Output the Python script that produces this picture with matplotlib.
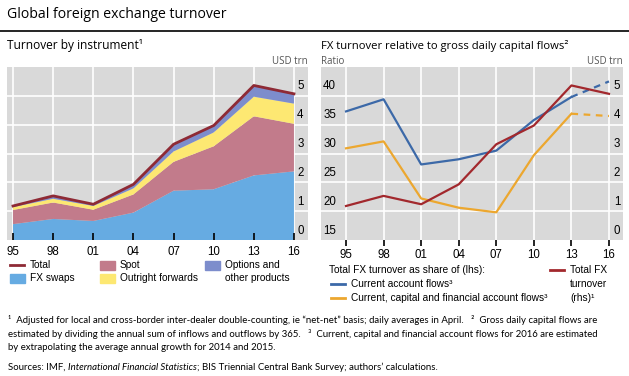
import matplotlib
matplotlib.use("Agg")
import matplotlib.pyplot as plt
from matplotlib.lines import Line2D
from matplotlib.patches import Rectangle

# data (USD trn, BIS triennial survey)
years = [1995, 1998, 2001, 2004, 2007, 2010, 2013, 2016]
year_labels = ["95", "98", "01", "04", "07", "10", "13", "16"]
fx_swaps = [0.55, 0.73, 0.66, 0.95, 1.71, 1.76, 2.24, 2.38]
spot = [0.49, 0.57, 0.39, 0.63, 1.00, 1.49, 2.05, 1.65]
forwards = [0.10, 0.13, 0.13, 0.21, 0.36, 0.48, 0.68, 0.70]
options = [0.05, 0.10, 0.07, 0.14, 0.24, 0.25, 0.39, 0.34]
total = [1.18, 1.53, 1.24, 1.93, 3.32, 3.97, 5.36, 5.07]

# ratios (lhs)
ca_ratio = [37.3, 39.4, 28.1, 29.0, 30.5, 35.8, 39.8, 42.5]
ccfa_ratio = [30.9, 32.1, 22.2, 20.6, 19.8, 29.7, 36.9, 36.5]

left_ticks = [0, 1, 2, 3, 4, 5]
ratio_ticks = [15, 20, 25, 30, 35, 40]

BG = "#d9d9d9"
C_SWAP = "#66abe2"
C_SPOT = "#c27b8b"
C_FWD = "#fde872"
C_OPT = "#7d8dcc"
C_TOT = "#8e2a35"
C_BLUE = "#3c69a8"
C_YEL = "#eca72f"
C_RED = "#a2282d"

W, H = 629, 376
TXT = "Open Sans"
ARIAL = "Liberation Sans"


def fx(px):
    return px / W


def fy(py):
    return 1 - py / H


def grid(ax, yt):
    for y in yt[1:]:
        ax.axhline(y, color="white", lw=1.2, zorder=0.5)
    for x in years:
        ax.axvline(x, color="white", lw=1.2, zorder=0.5)


fig = plt.figure(figsize=(W / 100, H / 100), dpi=100)

# titles
fig.text(fx(7), fy(15), "Global foreign exchange turnover", fontsize=10.1,
         family=TXT, va="center")
fig.add_artist(Line2D([0, 1], [fy(31), fy(31)], color="black", lw=1.2,
                      transform=fig.transFigure))
fig.text(fx(7), fy(46), "Turnover by instrument\u00b9", fontsize=8.6,
         family=TXT, va="center")
fig.text(fx(321), fy(46), "FX turnover relative to gross daily capital flows\u00b2",
         fontsize=8.1, family=TXT, va="center")
fig.text(fx(308), fy(61), "USD trn", fontsize=7, family=TXT, va="center",
         ha="right", color="#555555")
fig.text(fx(321), fy(61), "Ratio", fontsize=7, family=TXT, va="center",
         color="#555555")
fig.text(fx(623), fy(61), "USD trn", fontsize=7, family=TXT, va="center",
         ha="right", color="#555555")

# left panel
ax1 = fig.add_axes([fx(7), fy(240), fx(308) - fx(7), fy(67) - fy(240)])
ax1.set_facecolor(BG)
grid(ax1, left_ticks)
ax1.stackplot(years, fx_swaps, spot, forwards, options,
              colors=[C_SWAP, C_SPOT, C_FWD, C_OPT], lw=0, zorder=1)
ax1.plot(years, total, color=C_TOT, lw=2, zorder=2)
ax1.set_xlim(1994.55, 2017.05)
ax1.set_ylim(0, 6)
ax1.set_yticks([])
ax1.set_xticks(years)
ax1.set_xticklabels(year_labels, family=ARIAL, fontsize=8.3)
ax1.tick_params(axis="x", direction="in", length=5, width=1.2, pad=4)
for s in ax1.spines.values():
    s.set_visible(False)
for v in left_ticks:
    ax1.text(0.975, v + 0.12, str(v), transform=ax1.get_yaxis_transform(),
             ha="center", va="bottom", family=ARIAL, fontsize=8.3)

# right panel
ax2 = fig.add_axes([fx(321), fy(240), fx(623) - fx(321), fy(67) - fy(240)])
ax2.set_facecolor(BG)
grid(ax2, ratio_ticks)
ax2.plot(years[:-1], ca_ratio[:-1], color=C_BLUE, lw=1.6)
ax2.plot(years[-2:], ca_ratio[-2:], color=C_BLUE, lw=1.6, ls=(0, (3, 2.5)))
ax2.plot(years[:-1], ccfa_ratio[:-1], color=C_YEL, lw=1.6)
ax2.plot(years[-2:], ccfa_ratio[-2:], color=C_YEL, lw=1.6, ls=(0, (3, 2.5)))
ax2.set_xlim(1993.0, 2017.12)
ax2.set_ylim(15, 45)
ax2.set_yticks([])
ax2.set_xticks(years)
ax2.set_xticklabels(year_labels, family=ARIAL, fontsize=8.3)
ax2.tick_params(axis="x", direction="out", length=4.5, width=1.2, pad=2)
for s in ax2.spines.values():
    s.set_visible(False)
for v in ratio_ticks:
    ax2.text(0.007, v + 0.6, str(v), transform=ax2.get_yaxis_transform(),
             ha="left", va="bottom", family=ARIAL, fontsize=8.3)

ax3 = ax2.twinx()
ax3.plot(years, total, color=C_RED, lw=1.6)
ax3.set_ylim(0, 6)
ax3.set_yticks([])
for s in ax3.spines.values():
    s.set_visible(False)
for v in left_ticks:
    ax3.text(0.98, v + 0.12, str(v), transform=ax3.get_yaxis_transform(),
             ha="center", va="bottom", family=ARIAL, fontsize=8.3)

# legends
lfs = 7.3


def leg_line(x, y, color, label):
    fig.add_artist(Line2D([fx(x), fx(x + 14)], [fy(y), fy(y)], color=color,
                          lw=2, transform=fig.transFigure))
    fig.text(fx(x + 20), fy(y), label, fontsize=lfs, family=ARIAL, va="center")


def leg_box(x, y, color, label):
    fig.add_artist(Rectangle((fx(x), fy(y + 5)), fx(15), 9 / H, color=color,
                             transform=fig.transFigure))
    fig.text(fx(x + 20), fy(y), label, fontsize=lfs, family=ARIAL, va="center")


leg_line(10, 265, C_TOT, "Total")
leg_box(10, 278, C_SWAP, "FX swaps")
leg_box(100, 265, C_SPOT, "Spot")
leg_box(100, 278, C_FWD, "Outright forwards")
leg_box(205, 265, C_OPT, "Options and")
fig.text(fx(225), fy(278), "other products", fontsize=lfs, family=ARIAL,
         va="center")

fig.text(fx(329), fy(270), "Total FX turnover as share of (lhs):", fontsize=lfs,
         family=ARIAL, va="center")
leg_line(331, 284, C_BLUE, "Current account flows\u00b3")
leg_line(331, 298, C_YEL, "Current, capital and financial account flows\u00b3")
leg_line(550, 270, C_RED, "Total FX")
fig.text(fx(570), fy(284), "turnover", fontsize=lfs, family=ARIAL, va="center")
fig.text(fx(570), fy(298), "(rhs)\u00b9", fontsize=lfs, family=ARIAL, va="center")

# footnotes
ffs = 6.95
FN = "Lato"
notes = [
    "\u00b9  Adjusted for local and cross-border inter-dealer double-counting, ie \u201cnet-net\u201d basis; "
    "daily averages in April.   \u00b2  Gross daily capital flows are",
    "estimated by dividing the annual sum of inflows and outflows by 365.   "
    "\u00b3  Current, capital and financial account flows for 2016 are estimated",
    "by extrapolating the average annual growth for 2014 and 2015.",
]
for i, line in enumerate(notes):
    fig.text(fx(8), fy(320 + 14 * i), line, fontsize=ffs, family=FN, va="center")

renderer = fig.canvas.get_renderer()
x0 = 8
for part, style in [("Sources: IMF, ", "normal"),
                    ("International Financial Statistics", "italic"),
                    ("; BIS Triennial Central Bank Survey; authors\u2019 calculations.", "normal")]:
    t = fig.text(fx(x0), fy(367), part, fontsize=ffs, family=FN, va="center",
                 style=style)
    x0 += t.get_window_extent(renderer).width

fig.savefig("out.png", dpi=100)
